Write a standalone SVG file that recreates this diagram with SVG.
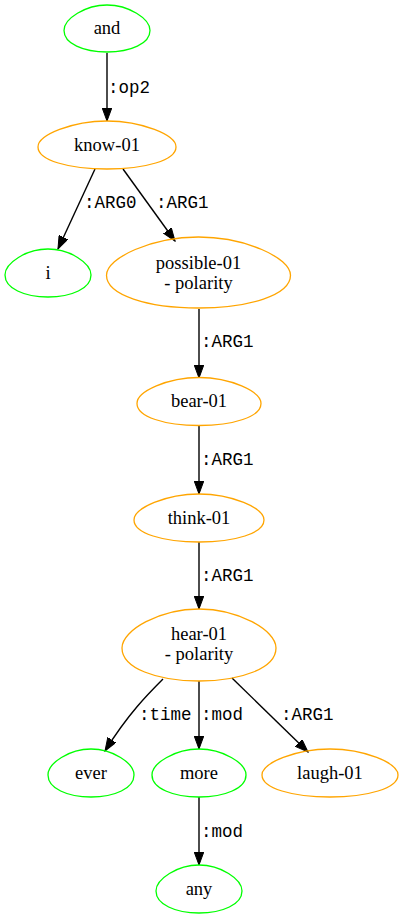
<svg xmlns="http://www.w3.org/2000/svg" width="403" height="919" viewBox="0 0 403 919">
<style>
.g{fill:none;stroke:#00ff00;stroke-width:1.3}
.o{fill:none;stroke:#ffa500;stroke-width:1.3}
.n{font-family:"Liberation Serif","Times New Roman",serif;font-size:18.5px;text-anchor:middle;fill:#000}
.e{fill:none;stroke:#000;stroke-width:1.4;marker-end:url(#ah)}
.l{font-family:"Liberation Mono","Courier New",monospace;font-size:17.5px;fill:#000}
</style>
<defs>
<marker id="ah" markerUnits="userSpaceOnUse" markerWidth="14" markerHeight="10" refX="13" refY="4.8" orient="auto">
<path d="M0,0 L13,4.8 L0,9.6 Z" fill="#000" stroke="#000" stroke-width="1"/>
</marker>
</defs>

<g id="connectors">
<path class="e" d="M107,53 L107,121"/>
<text class="l" x="108" y="93">:op2</text>
<path class="e" d="M95,169 L58,249"/>
<text class="l" x="84" y="208">:ARG0</text>
<path class="e" d="M123,169 L175,241"/>
<text class="l" x="156" y="208">:ARG1</text>
<path class="e" d="M199,309 L199,378"/>
<text class="l" x="201" y="347">:ARG1</text>
<path class="e" d="M199,426 L199,494"/>
<text class="l" x="201" y="465">:ARG1</text>
<path class="e" d="M199,542 L199,609"/>
<text class="l" x="201" y="581">:ARG1</text>
<path class="e" d="M163,679 C148,694 128,714 105,751"/>
<text class="l" x="139" y="720">:time</text>
<path class="e" d="M199,681 L199,749"/>
<text class="l" x="201" y="720">:mod</text>
<path class="e" d="M232,678 L308,752"/>
<text class="l" x="281" y="720">:ARG1</text>
<path class="e" d="M199,797 L199,865"/>
<text class="l" x="201" y="837">:mod</text>
</g>

<g id="n-and"><path class="g" d="M107,5 C128.5,5 150,18.63 150,30.38 C150,43.54 130.65,52 107,52 C83.35,52 64,43.54 64,30.38 C64,18.63 85.5,5 107,5Z"/><text class="n" x="107" y="34">and</text></g>
<g id="n-know"><path class="o" d="M107,121 C141.5,121 176,134.92 176,146.92 C176,160.36 144.95,169 107,169 C69.05,169 38,160.36 38,146.92 C38,134.92 72.5,121 107,121Z"/><text class="n" x="107" y="151">know-01</text></g>
<g id="n-i"><path class="g" d="M48,249 C69.5,249 91,262.92 91,274.92 C91,288.36 71.65,297 48,297 C24.35,297 5,288.36 5,274.92 C5,262.92 26.5,249 48,249Z"/><text class="n" x="48" y="279">i</text></g>
<g id="n-possible"><path class="o" d="M198.5,237 C244.5,237 290.5,257.59 290.5,275.34 C290.5,295.22 249.1,308 198.5,308 C147.9,308 106.5,295.22 106.5,275.34 C106.5,257.59 152.5,237 198.5,237Z"/><text class="n" x="198.5" y="269">possible-01</text><text class="n" x="198.5" y="289">- polarity</text></g>
<g id="n-bear"><path class="o" d="M199,377.5 C230,377.5 261,391.42 261,403.42 C261,416.86 233.1,425.5 199,425.5 C164.9,425.5 137,416.86 137,403.42 C137,391.42 168,377.5 199,377.5Z"/><text class="n" x="199" y="407">bear-01</text></g>
<g id="n-think"><path class="o" d="M199,494 C231.5,494 264,507.92 264,519.92 C264,533.36 234.75,542 199,542 C163.25,542 134,533.36 134,519.92 C134,507.92 166.5,494 199,494Z"/><text class="n" x="199" y="524">think-01</text></g>
<g id="n-hear"><path class="o" d="M199,609 C237.5,609 276,629.88 276,647.88 C276,668.04 241.35,681 199,681 C156.65,681 122,668.04 122,647.88 C122,629.88 160.5,609 199,609Z"/><text class="n" x="199" y="640">hear-01</text><text class="n" x="199" y="660">- polarity</text></g>
<g id="n-ever"><path class="g" d="M91,749 C112.5,749 134,762.92 134,774.92 C134,788.36 114.65,797 91,797 C67.35,797 48,788.36 48,774.92 C48,762.92 69.5,749 91,749Z"/><text class="n" x="91" y="779">ever</text></g>
<g id="n-more"><path class="g" d="M199,749 C222.5,749 246,762.92 246,774.92 C246,788.36 224.85,797 199,797 C173.15,797 152,788.36 152,774.92 C152,762.92 175.5,749 199,749Z"/><text class="n" x="199" y="779">more</text></g>
<g id="n-laugh"><path class="o" d="M330,749 C364,749 398,762.92 398,774.92 C398,788.36 367.4,797 330,797 C292.6,797 262,788.36 262,774.92 C262,762.92 296,749 330,749Z"/><text class="n" x="330" y="779">laugh-01</text></g>
<g id="n-any"><path class="g" d="M199,865 C220.5,865 242,878.92 242,890.92 C242,904.36 222.65,913 199,913 C175.35,913 156,904.36 156,890.92 C156,878.92 177.5,865 199,865Z"/><text class="n" x="199" y="895">any</text></g>
</svg>
